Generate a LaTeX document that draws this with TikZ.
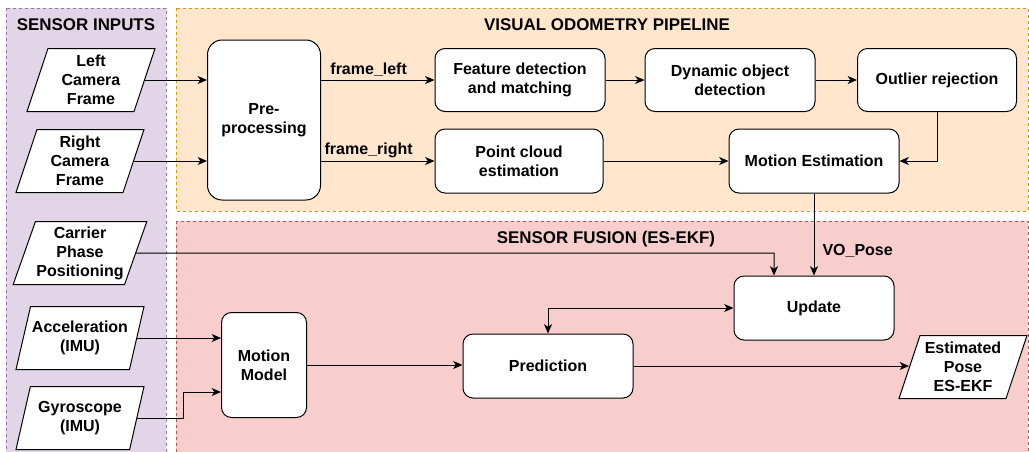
\documentclass[tikz,border=0pt]{standalone}
\usepackage{fontspec}
\setmainfont{Liberation Sans}
\usetikzlibrary{shapes.geometric}
\usetikzlibrary{arrows.meta}

\begin{document}
\begin{tikzpicture}[x=0.75pt,y=0.75pt,yscale=-1,xscale=1,
  font=\fontsize{12}{14.3}\selectfont\bfseries,
  >={Stealth[length=7pt,width=6pt,inset=2pt]},
  box/.style={draw={rgb, 255:red, 0; green, 0; blue, 0 }, fill=white, rounded corners=7.5pt, line width=0.75pt, align=center, inner sep=0.75pt},
  io/.style={trapezium, trapezium left angle=68, trapezium right angle=112, trapezium stretches body, draw, fill=white, line width=0.75pt, align=center, minimum width=96pt, minimum height=47.25pt, inner sep=0.75pt},
  link/.style={->, line width=0.75pt},
  panel/.style={dash pattern=on 2.25pt off 2.25pt, line width=0.75pt},
  title/.style={font=\fontsize{12.7}{15}\selectfont\bfseries, inner sep=0.75pt},
]
\useasboundingbox (0,0) rectangle (1029,451);
\clip (0,0) rectangle (1029,451);

%Shape: Rectangle [id:sensor inputs panel]
\draw [panel, draw={rgb, 255:red, 150; green, 115; blue, 166 }, fill={rgb, 255:red, 225; green, 213; blue, 231 }] (6,8) rectangle (166,465);
%Shape: Rectangle [id:visual odometry panel]
\draw [panel, draw={rgb, 255:red, 215; green, 155; blue, 0 }, fill={rgb, 255:red, 255; green, 230; blue, 204 }] (176,8) rectangle (1028,211);
%Shape: Rectangle [id:sensor fusion panel]
\draw [panel, draw={rgb, 255:red, 184; green, 84; blue, 80 }, fill={rgb, 255:red, 248; green, 206; blue, 204 }] (176,221) rectangle (1028,465);

% Text Node
\draw (86,25) node [title] (tin) {SENSOR INPUTS};
% Text Node
\draw (607,25) node [title] (tvo) {VISUAL ODOMETRY PIPELINE};
% Text Node
\draw (606,239) node [title] (tsf) {SENSOR FUSION (ES-EKF)};

% inputs
\node [io] (lcam) at (91,80) {Left\\Camera\\Frame};
\node [io] (rcam) at (80,161) {Right\\Camera\\Frame};
\node [io] (cpp) at (80,253) {Carrier\\Phase\\Positioning};
\node [io] (acc) at (80,338) {Acceleration\\(IMU)};
\node [io] (gyro) at (80,418) {Gyroscope\\(IMU)};

% visual odometry
\node [box, rounded corners=11pt, minimum width=84.75pt, minimum height=120pt] (pre) at (264,120) {Pre-\\processing};
\node [box, minimum width=127.5pt, minimum height=47.25pt] (feat) at (520,80) {Feature detection\\and matching};
\node [box, minimum width=127.5pt, minimum height=47.25pt] (dyn) at (730,80) {Dynamic object\\detection};
\node [box, minimum width=119.25pt, minimum height=47.25pt] (outl) at (937,80) {Outlier rejection};
\node [box, minimum width=126pt, minimum height=48pt] (pcl) at (519,161) {Point cloud\\estimation};
\node [box, minimum width=127.5pt, minimum height=48pt] (mest) at (814,161) {Motion Estimation};

% sensor fusion
\node [box, minimum width=63.75pt, minimum height=78.75pt] (mm) at (264,365) {Motion\\Model};
\node [box, minimum width=127.5pt, minimum height=48pt] (pred) at (548,366) {Prediction};
\node [box, minimum width=120pt, minimum height=48pt] (upd) at (814,308) {Update};
\node [io] (est) at (963,367) {Estimated\\Pose\\ES-EKF};

\coordinate (cppdrop) at (774,253);
\coordinate (gyrobend) at (183,392);

%Straight Lines
\draw [link] (lcam.east) -- (lcam.east -| pre.west);
\draw [link] (rcam.east) -- (rcam.east -| pre.west);
\draw [link] (pre.east |- feat.west) -- node [above, pos=0.42, inner sep=2pt] {frame\_left} (feat.west);
\draw [link] (pre.east |- pcl.west) -- node [above, pos=0.42, inner sep=2pt] {frame\_right} (pcl.west);
\draw [link] (feat) -- (dyn);
\draw [link] (dyn) -- (outl);
\draw [link] (pcl) -- (mest);
\draw [link] (outl.south) |- (mest.east);
\draw [link] (mest) -- node [right, pos=0.7, inner sep=6pt] {VO\_Pose} (upd);
\draw [link] (cpp.east) -- (cppdrop) -- (cppdrop |- upd.north);
\draw [link] (acc.east) -- (acc.east -| mm.west);
\draw [link] (gyro.east) -| (gyrobend) -- (gyrobend -| mm.west);
\draw [link] (mm.east) -- (mm.east -| pred.west);
\draw [link, <->] (pred.north) |- (upd.west);
\draw [link] (pred.east) -- (pred.east -| est.west);

\end{tikzpicture}
\end{document}
